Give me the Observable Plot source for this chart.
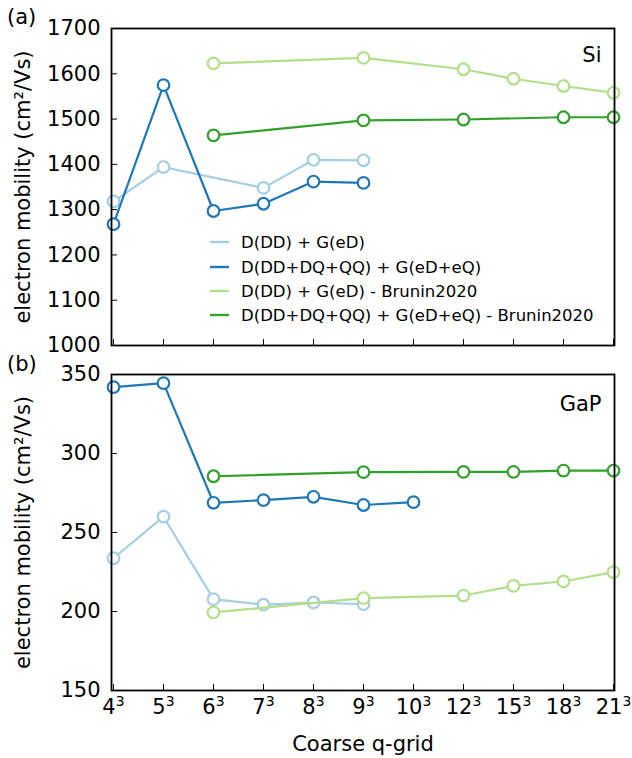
<!DOCTYPE html>
<html><head><meta charset="utf-8">
<script src="https://cdn.jsdelivr.net/npm/d3@7"></script>
<script src="https://cdn.jsdelivr.net/npm/@observablehq/plot@0.6"></script>
<style>
body{margin:0;background:#fff;}
#wrap{position:relative;width:632px;height:758px;font-family:"DejaVu Sans",sans-serif;background:#fff;}
#wrap svg{display:block;}
.tag{position:absolute;font-size:21px;color:#000;line-height:1;}
</style></head><body><div id="wrap"></div>
<script>
// categories
const grids = ["4","5","6","7","8","9","10","12","15","18","21"];
const gridLabels = grids.map(g => g + "³");
const seriesNames = ["D(DD) + G(eD)", "D(DD+DQ+QQ) + G(eD+eQ)", "D(DD) + G(eD) - Brunin2020", "D(DD+DQ+QQ) + G(eD+eQ) - Brunin2020"];
const colors = ["#a6cee3", "#1f78b4", "#b2df8a", "#33a02c"];

// Si (panel a)
const siGrid_DD = ["4","5","7","8","9"];
const si_DD = [1318, 1394, 1348, 1410, 1409];
const siGrid_DDQ = ["4","5","6","7","8","9"];
const si_DDQ = [1268, 1575, 1297, 1313, 1362, 1359];
const siGrid_B_DD = ["6","9","12","15","18","21"];
const si_B_DD = [1623, 1635, 1610, 1589, 1573, 1558];
const siGrid_B_DDQ = ["6","9","12","18","21"];
const si_B_DDQ = [1464, 1497, 1499, 1504, 1504];

// GaP (panel b)
const gapGrid_DD = ["4","5","6","7","8","9"];
const gap_DD = [233.7, 260, 207.8, 204.3, 205.7, 204.6];
const gapGrid_DDQ = ["4","5","6","7","8","9","10"];
const gap_DDQ = [342, 344.5, 268.8, 270.5, 272.6, 267.4, 269.2];
const gapGrid_B_DD = ["6","9","12","15","18","21"];
const gap_B_DD = [199.4, 208.5, 210.1, 216.2, 219.0, 224.9];
const gapGrid_B_DDQ = ["6","9","12","15","18","21"];
const gap_B_DDQ = [285.6, 288.2, 288.4, 288.4, 289.2, 289.2];

const siTicks = [1000,1100,1200,1300,1400,1500,1600,1700];
const gapTicks = [150,200,250,300,350];

function build(gridsArr, valsArr) {
  return gridsArr.map((gs, i) => gs.map((g, j) => ({g: g + "³", v: valsArr[i][j], s: seriesNames[i]})));
}
const siData = build([siGrid_DD, siGrid_DDQ, siGrid_B_DD, siGrid_B_DDQ], [si_DD, si_DDQ, si_B_DD, si_B_DDQ]);
const gapData = build([gapGrid_DD, gapGrid_DDQ, gapGrid_B_DD, gapGrid_B_DDQ], [gap_DD, gap_DDQ, gap_B_DD, gap_B_DDQ]);

function panel({series, domain, ticks, height, marginTop, marginBottom, showX, name, nameDy}) {
  const marks = [
    Plot.axisY({ticks, tickSize: -6, tickPadding: 17, tickFormat: d => String(d),
      label: "electron mobility (cm²/Vs)", labelAnchor: "center", labelArrow: "none", labelOffset: 96}),
    Plot.axisX({ticks: gridLabels, tickSize: -6, tickPadding: showX ? 15 : 0,
      tickFormat: showX ? (d => d) : (() => ""),
      label: showX ? "Coarse q-grid" : null, labelAnchor: "center", labelArrow: "none", labelOffset: 60})
  ];
  series.forEach((d, i) => {
    marks.push(Plot.line(d, {x: "g", y: "v", stroke: colors[i], strokeWidth: 2.2}));
    marks.push(Plot.dot(d, {x: "g", y: "v", stroke: colors[i], fill: "white", r: 5.8, strokeWidth: 2.2}));
  });
  marks.push(Plot.frame({stroke: "#000", strokeWidth: 1.8}));
  marks.push(Plot.text([name], {text: d => d, frameAnchor: "top-right", dx: -13, dy: nameDy, fontSize: 21, textAnchor: "end"}));
  return Plot.plot({
    width: 632, height, marginLeft: 111, marginRight: 18, marginTop, marginBottom,
    style: {fontFamily: "DejaVu Sans", fontSize: "21px", color: "#000", background: "white", overflow: "visible"},
    x: {type: "point", domain: gridLabels, padding: 0},
    y: {domain, label: null},
    marks
  });
}

const wrap = document.getElementById("wrap");
const svgA = panel({series: siData, domain: [1000, 1700], ticks: siTicks, height: 360, marginTop: 28, marginBottom: 15, showX: false, name: "Si", nameDy: 19});
const svgB = panel({series: gapData, domain: [150, 350], ticks: gapTicks, height: 398, marginTop: 14, marginBottom: 68, showX: true, name: "GaP", nameDy: 22});
wrap.appendChild(svgA);
wrap.appendChild(svgB);

// enforce font sizes on all Plot texts
[svgA, svgB].forEach(svg => {
  d3.select(svg).selectAll("text").style("font-size", "21px").style("font-family", "DejaVu Sans");
});
// superscript exponent on x tick labels
d3.select(svgB).selectAll("g").filter(function() { return this.getAttribute("aria-label") === "x-axis tick label"; })
  .selectAll("text").each(function() {
    const t = d3.select(this);
    const s = t.text();
    if (!s) return;
    const base = s.replace("³", "");
    t.text(null);
    t.append("tspan").text(base);
    t.append("tspan").style("font-size", "14px").attr("dy", "-0.6em").text("3");
  });

// legend inside panel (a)
const leg = d3.select(svgA).append("g").attr("text-anchor", "start");
const legY = [242, 267, 291, 315];
seriesNames.forEach((n, i) => {
  leg.append("line").attr("x1", 210).attr("x2", 229).attr("y1", legY[i]).attr("y2", legY[i])
    .attr("stroke", colors[i]).attr("stroke-width", 2.4);
  leg.append("text").attr("x", 241).attr("y", legY[i]).attr("dy", "0.35em")
    .style("font-size", "16.5px").style("font-family", "DejaVu Sans").text(n);
});

// panel tags
[["(a)", 7, 7], ["(b)", 7, 354]].forEach(([t, x, y]) => {
  const el = document.createElement("div");
  el.className = "tag"; el.textContent = t;
  el.style.left = x + "px"; el.style.top = y + "px";
  wrap.appendChild(el);
});
</script></body></html>
